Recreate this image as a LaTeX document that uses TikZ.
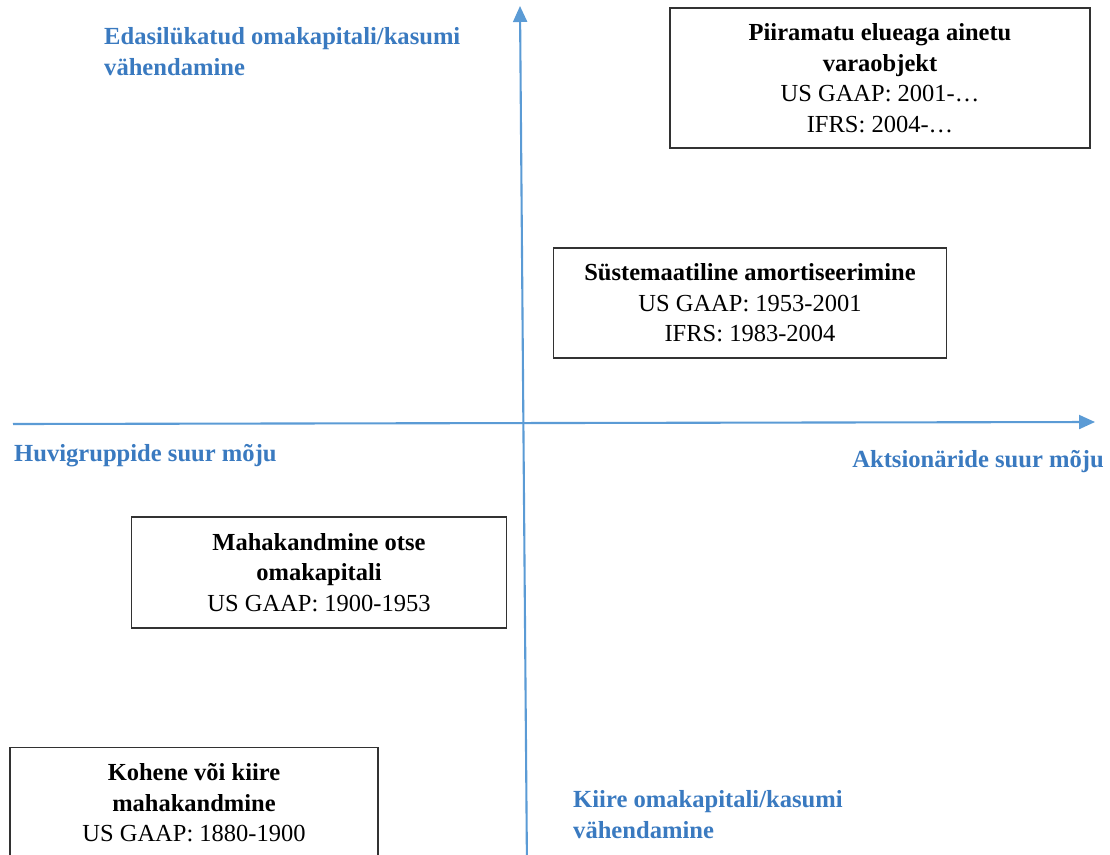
\documentclass[tikz,border=0pt]{standalone}
\usepackage{fontspec}
\setmainfont{Liberation Serif}
\usetikzlibrary{arrows.meta}
\definecolor{axisblue}{RGB}{91,155,213}
\definecolor{labelblue}{RGB}{58,122,192}
\definecolor{boxline}{RGB}{50,50,50}
\begin{document}
\begin{tikzpicture}[x=1pt,y=-1pt,
  axis/.style={draw=axisblue,line width=2.1pt,-{Triangle[width=14pt,length=16pt]}},
  phase/.style={draw=boxline,line width=1.4pt,fill=white,align=center,inner sep=0pt,
    font=\fontsize{24.5}{30.5}\selectfont},
  axislabel/.style={text=labelblue,inner sep=0pt,font=\fontsize{24.6}{31}\selectfont\bfseries}]
\useasboundingbox (0,0) rectangle (1110,854);
\clip (0,0) rectangle (1110,854);

% axes
\coordinate (ybot) at (527,870);
\coordinate (ytop) at (520,6);
\coordinate (xleft) at (13,424);
\coordinate (xright) at (1095,422);
\draw[axis] (xleft) -- (xright);
\draw[axis] (ybot) -- (ytop);

% axis labels
\node[axislabel,anchor=west,align=left] (up) at (104,51.5)
  {Edasilükatud omakapitali/kasumi\\vähendamine};
\node[axislabel,anchor=west] (left) at (14,456) {Huvigruppide suur mõju};
\node[axislabel,anchor=east] (right) at (1104,462) {Aktsionäride suur mõju};
\node[axislabel,anchor=west,align=left] (down) at (573,815)
  {Kiire omakapitali/kasumi\\vähendamine};

% phases of goodwill accounting
\node[phase,minimum width=420pt,minimum height=140pt] (p4) at (880,78)
  {\textbf{Piiramatu elueaga ainetu}\\\textbf{varaobjekt}\\US GAAP: 2001-…\\IFRS: 2004-…};
\node[phase,minimum width=393pt,minimum height=110pt] (p3) at (750,303)
  {\textbf{Süstemaatiline amortiseerimine}\\US GAAP: 1953-2001\\IFRS: 1983-2004};
\node[phase,minimum width=375pt,minimum height=111pt] (p2) at (319,572.5)
  {\textbf{Mahakandmine otse}\\\textbf{omakapitali}\\US GAAP: 1900-1953};
\node[phase,minimum width=368pt,minimum height=140pt,anchor=north] (p1) at (194,747)
  {\textbf{Kohene või kiire}\\\textbf{mahakandmine}\\US GAAP: 1880-1900\\\mbox{}};
\end{tikzpicture}
\end{document}
